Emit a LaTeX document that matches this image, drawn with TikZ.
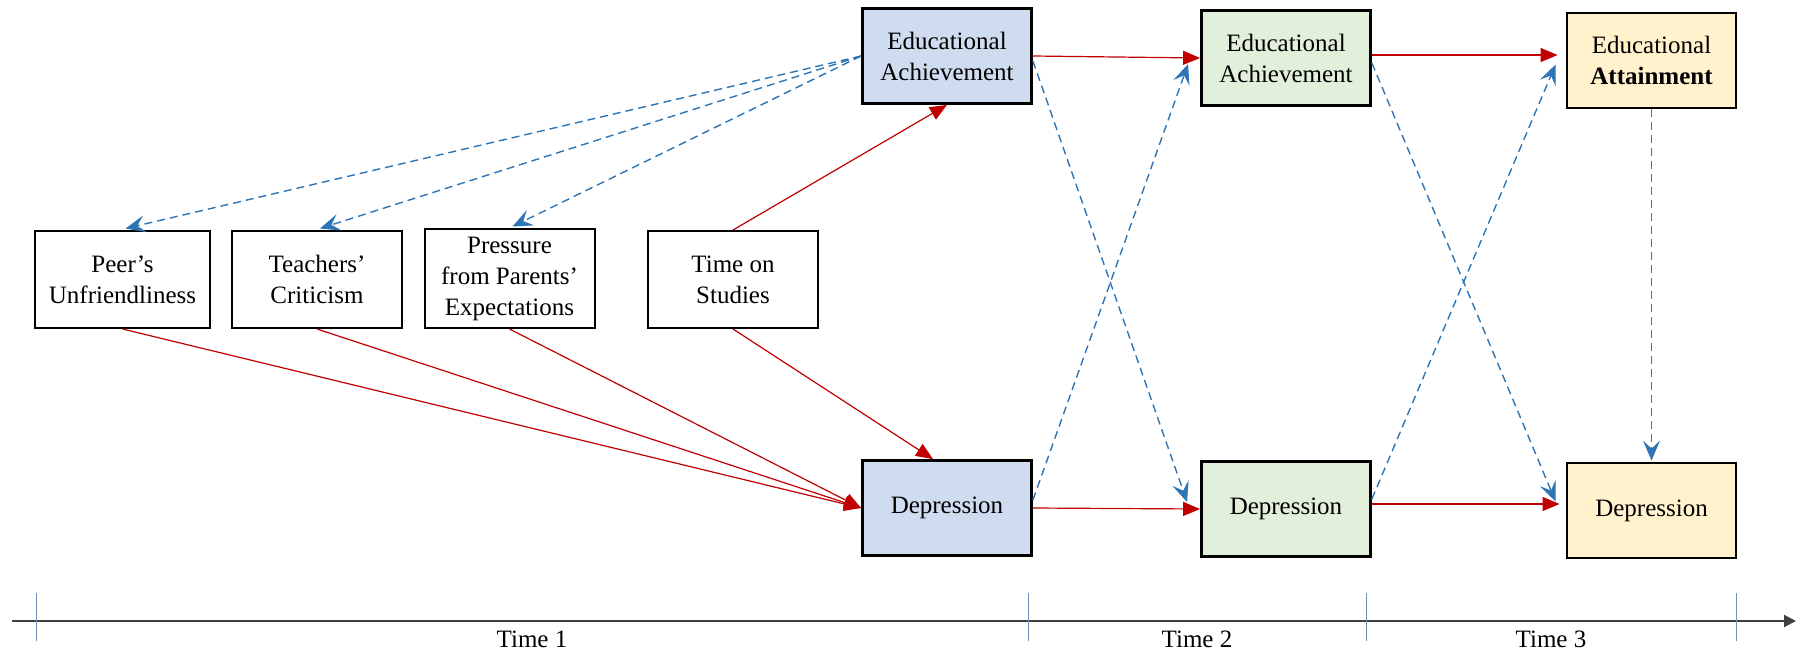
\documentclass[tikz,border=0pt]{standalone}
\usepackage{fontspec}
\setmainfont{Liberation Serif}
\usetikzlibrary{arrows.meta,calc}
\definecolor{redarrow}{HTML}{C00000}
\definecolor{bluearrow}{HTML}{2E75B6}
\definecolor{fillblue}{HTML}{CFDBEF}
\definecolor{fillgreen}{HTML}{E2EFDA}
\definecolor{fillyellow}{HTML}{FFF2CC}
\definecolor{axisgray}{HTML}{404040}
\definecolor{tickblue}{HTML}{7090B8}
\begin{document}
\begin{tikzpicture}[x=0.5pt,y=-0.5pt,
  txt/.style={font=\fontsize{12.5}{15.5}\selectfont, align=center},
  whitebox/.style={txt, draw=black, line width=1pt, fill=white, minimum width=85pt, minimum height=48.5pt, inner sep=0pt},
  colbox/.style={txt, draw=black, line width=1.4pt, minimum width=84.5pt, minimum height=47.5pt, inner sep=0pt},
  redarr/.style={draw=redarrow, line width=0.6pt, -{Triangle[length=8.5pt,width=7pt]}},
  bluearr/.style={draw=bluearrow, line width=0.7pt, dash pattern=on 4pt off 2.5pt, -{Stealth[length=10pt,width=8.5pt,inset=4pt]}},
  axis/.style={draw=axisgray, line width=1pt, -{Triangle[length=6pt,width=6pt]}},
  tick/.style={draw=tickblue, line width=0.5pt},
  timelabel/.style={font=\fontsize{12.5}{15.5}\selectfont, anchor=base, inner sep=0pt}
]
\useasboundingbox (0,0) rectangle (1811,653);

% white boxes
\node[whitebox, minimum width=87.5pt] (Peer) at (122.5,279.5) {Peer's\\Unfriendliness};
\node[whitebox] (Teach) at (317,279.5) {Teachers'\\Criticism};
\node[whitebox, minimum height=49.5pt] (Press) at (509.5,278.5) {Pressure\\from Parents'\\Expectations};
\node[whitebox] (Time) at (733,279.5) {Time on\\Studies};

% coloured boxes
\node[colbox, fill=fillblue] (EA1) at (947,56) {Educational\\Achievement};
\node[colbox, fill=fillgreen] (EA2) at (1286,58) {Educational\\Achievement};
\node[colbox, fill=fillyellow] (EA3) at (1651.5,60.5) {Educational\\\textbf{Attainment}};
\node[colbox, fill=fillblue] (Dep1) at (947,508) {Depression};
\node[colbox, fill=fillgreen] (Dep2) at (1286,509) {Depression};
\node[colbox, fill=fillyellow] (Dep3) at (1651.5,510.5) {Depression};

% blue dashed: EA1 to antecedents
\draw[bluearr] (EA1.west) -- ($(Peer.north)+(3,-1.5)$);
\draw[bluearr] (EA1.west) -- ($(Teach.north)+(3,-1.5)$);
\draw[bluearr] (EA1.west) -- ($(Press.north)+(3,-1.5)$);

% red: antecedents to Dep1
\draw[redarr] (Peer.south) -- (Dep1.west);
\draw[redarr] (Teach.south) -- (Dep1.west);
\draw[redarr] (Press.south) -- (Dep1.west);
\draw[redarr] (Time.south) -- ($(Dep1.north)+(-14,0)$);
\draw[redarr] (Time.north) -- (EA1.south);

% red: across time
\draw[redarr] (EA1.east) -- (EA2.west);
\coordinate (ea2o) at ($(EA2.east)+(0,-3)$);
\draw[redarr, shorten >=4pt] (ea2o) -- (ea2o -| EA3.west);
\draw[redarr] (Dep1.east) -- (Dep2.west);
\coordinate (d2o) at ($(Dep2.east)+(0,-5)$);
\draw[redarr, shorten >=3pt] (d2o) -- (d2o -| Dep3.west);

% blue dashed crosses
\draw[bluearr] ($(EA1.east)+(0,5)$) -- ($(Dep2.west)+(-13,-7)$);
\draw[bluearr] ($(Dep1.east)+(0,-8)$) -- ($(EA2.west)+(-12,6)$);
\draw[bluearr] ($(EA2.east)+(0,5)$) -- ($(Dep3.west)+(-10,-9)$);
\draw[bluearr] ($(Dep2.east)+(0,-10)$) -- ($(EA3.west)+(-10,4)$);
\draw[bluearr, shorten >=0.5pt] (EA3.south) -- (Dep3.north);

% timeline
\coordinate (ax0) at (12,621);
\coordinate (ax1) at (1796,621);
\draw[axis] (ax0) -- (ax1);
\foreach \n/\x in {t0/36, t1/1028, t2/1366, t3/1736} {
  \coordinate (\n a) at (\x,593);
  \coordinate (\n b) at (\x,641);
  \draw[tick] (\n a) -- (\n b);
}
\node[timelabel] (T1) at (532,647) {Time 1};
\node[timelabel] (T2) at (1197,647) {Time 2};
\node[timelabel] (T3) at (1551,647) {Time 3};
\end{tikzpicture}
\end{document}
